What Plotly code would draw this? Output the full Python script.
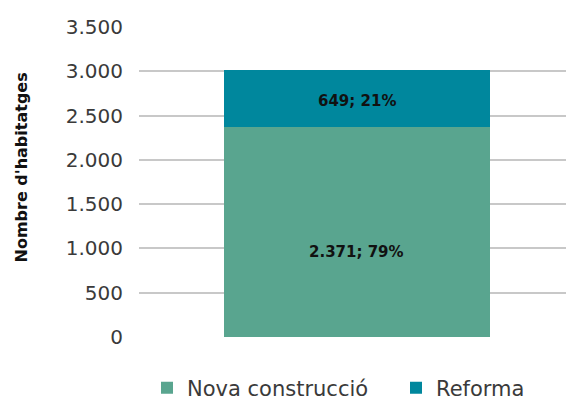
import plotly.graph_objects as go

categories = [""]
series_names = ["Nova construcció", "Reforma"]
nova = [2371]
reforma = [649]
colors = ["#59A58F", "#00879D"]
y_ticks = [0, 500, 1000, 1500, 2000, 2500, 3000, 3500]
y_tick_labels = ["0", "500", "1.000", "1.500", "2.000", "2.500", "3.000", "3.500"]

total = nova[0] + reforma[0]

def lab(v):
    return f"{v:,}".replace(",", ".") + f"; {round(v / total * 100)}%"

fig = go.Figure()
for name, vals, col, lg in zip(series_names, [nova, reforma], colors, ["legend", "legend2"]):
    fig.add_trace(go.Bar(
        x=categories, y=vals, name=name, marker=dict(color=col, line=dict(width=0)),
        width=0.623, hoverinfo="skip", legend=lg,
    ))

# value labels placed at the segment middles (from the data), nudged in pixels
label_shift = [-20, -3]
annotations = []
base = 0
for vals, shift in zip([nova, reforma], label_shift):
    v = vals[0]
    annotations.append(dict(
        x=0, y=base + v / 2, xref="x", yref="y", text=lab(v),
        showarrow=False, yshift=shift, xanchor="center", yanchor="middle",
        font=dict(family="DejaVu Sans", size=15, color="#111111", weight="bold"),
    ))
    base += v

annotations.append(dict(text="<b>Nombre d'habitatges</b>", textangle=-90,
                        x=(20.5 - 139) / 427, y=(337 - 168) / 310,
                        xref="paper", yref="paper", xanchor="center", yanchor="middle",
                        showarrow=False,
                        font=dict(family="DejaVu Sans", size=16, color="#111111")))

legend_style = dict(orientation="h", xref="container", xanchor="left",
                    y=(401 - 388) / 401, yref="container", yanchor="middle",
                    font=dict(family="DejaVu Sans", size=21, color="#3a3a3a"),
                    itemclick=False, bgcolor="rgba(0,0,0,0)")

fig.update_layout(
    barmode="stack",
    width=566, height=401,
    margin=dict(l=139, r=0, t=27, b=64, autoexpand=False),
    paper_bgcolor="white", plot_bgcolor="white",
    showlegend=True,
    legend=dict(x=147 / 566, **legend_style),
    legend2=dict(x=396 / 566, **legend_style),
    xaxis=dict(range=[-0.51, 0.49], showticklabels=False, showgrid=False, zeroline=False, showline=False),
    yaxis=dict(range=[0, 3500], tickvals=y_ticks, ticktext=y_tick_labels,
               showgrid=True, gridcolor="#C8C8C8", gridwidth=1.5, zeroline=False, showline=False,
               tickfont=dict(family="DejaVu Sans", size=20, color="#3a3a3a"),
               ticks="", ticklabelstandoff=15),
    annotations=annotations,
)
fig.write_html(
    "out.html",
    config={"displayModeBar": False},
    post_script="document.body.style.margin='0';document.body.style.overflow='hidden';",
)
